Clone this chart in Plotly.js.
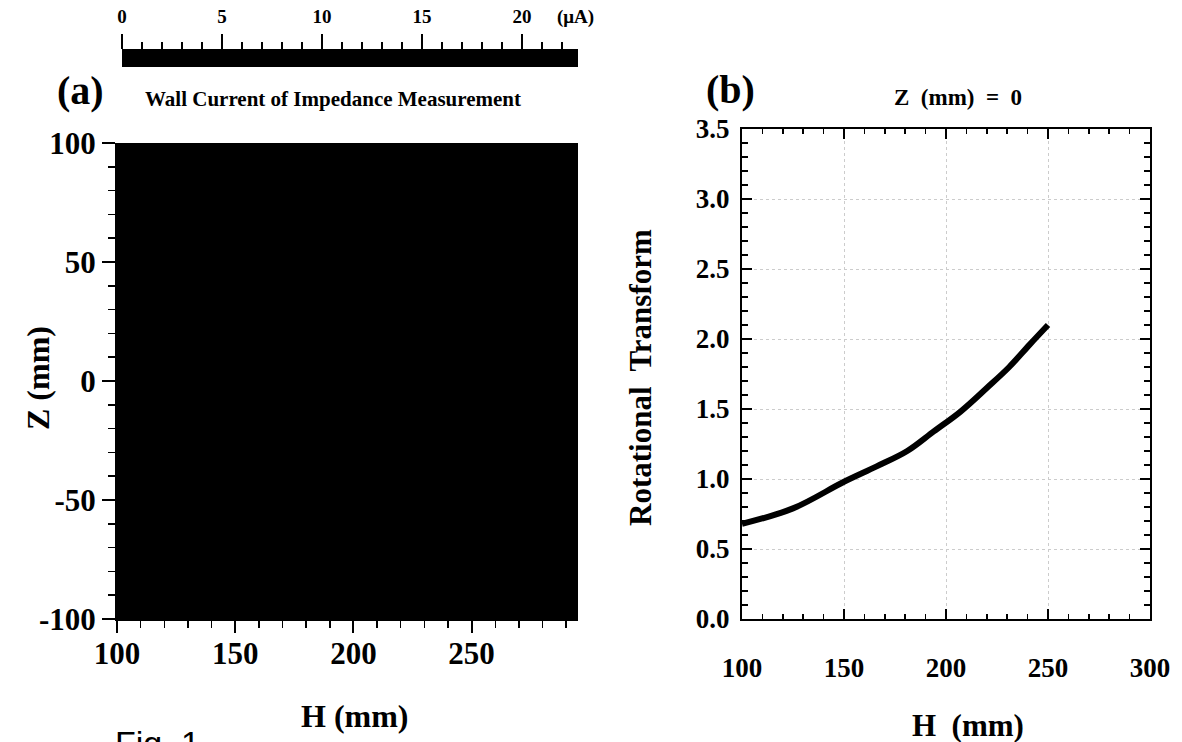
<!DOCTYPE html>
<html>
<head>
<meta charset="utf-8">
<script src="https://cdn.plot.ly/plotly-3.0.1.min.js"></script>
<style>body{margin:0;background:#fff}</style>
</head>
<body>
<div id="chart" style="width:1182px;height:742px"></div>
<script>
// ---- Panel (a): wall current map (rendered fully black in the reference) ----
const hEdgesA = [100, 150, 200, 250, 295];          // H (mm) cell edges
const zEdgesA = [-100, -50, 0, 50, 100];            // Z (mm) cell edges
const wallCurrent = [                               // µA (all saturated / black)
  [22.0, 22.3, 22.5, 22.6],
  [22.2, 22.5, 22.7, 22.8],
  [22.2, 22.5, 22.7, 22.8],
  [22.0, 22.3, 22.5, 22.6]
];
const zTickVals = [-100, -50, 0, 50, 100];
const zTickText = ['-100', '-50', '0', '50', '100'];
const hTickValsA = [100, 150, 200, 250];
// colour strip (scale bar) of panel (a)
const cbarEdges = [0, 5, 10, 15, 20, 22.8];
const cbarLevels = [2.5, 7.5, 12.5, 17.5, 21.4];
const cbarTicks = [0, 5, 10, 15, 20];

// ---- Panel (b): rotational transform vs H at Z = 0 ----
const hB = [100, 125, 150, 166, 181, 194, 207, 220, 231, 241, 250];
const iotaB = [0.68, 0.79, 0.98, 1.09, 1.20, 1.34, 1.48, 1.65, 1.80, 1.96, 2.10];

const W = 1182, Hh = 742;
const px = x => x / W;
const py = y => 1 - y / Hh;
const SERIF = 'Liberation Serif, Times New Roman, serif';

const traces = [
  {
    type: 'heatmap', x: hEdgesA, y: zEdgesA, z: wallCurrent,
    colorscale: [[0, '#000000'], [1, '#000000']], showscale: false,
    xaxis: 'x', yaxis: 'y', hoverinfo: 'skip'
  },
  {
    type: 'heatmap', x: cbarEdges, y: [0, 1], z: [cbarLevels],
    colorscale: [[0, '#000000'], [1, '#000000']], showscale: false,
    xaxis: 'x3', yaxis: 'y3', hoverinfo: 'skip'
  },
  {
    type: 'scatter', mode: 'lines', x: hB, y: iotaB,
    line: {color: '#000', width: 6, shape: 'spline'},
    xaxis: 'x2', yaxis: 'y2', showlegend: false
  }
];

const tfA = {family: SERIF, size: 31, color: '#000', weight: 'bold'};
const tfB = {family: SERIF, size: 27, color: '#000', weight: 'bold'};

const layout = {
  width: W, height: Hh,
  margin: {l: 0, r: 0, t: 0, b: 0},
  paper_bgcolor: '#fff', plot_bgcolor: '#fff',
  showlegend: false,
  xaxis: {
    domain: [px(117), px(578)], range: [100, 295], anchor: 'y',
    tickvals: hTickValsA, ticks: 'outside', ticklen: 12, tickwidth: 2,
    minor: {dtick: 10, tick0: 100, ticks: 'outside', ticklen: 7, tickwidth: 1.5, tickcolor: '#000'},
    showline: true, linewidth: 2, linecolor: '#000', tickcolor: '#000',
    showgrid: false, zeroline: false, tickfont: tfA, ticklabelstandoff: -6
  },
  yaxis: {
    domain: [py(619), py(143)], range: [-100, 100], anchor: 'x',
    tickvals: zTickVals, ticktext: zTickText, ticks: 'outside', ticklen: 13, tickwidth: 2,
    minor: {dtick: 10, tick0: -100, ticks: 'outside', ticklen: 7, tickwidth: 1.5, tickcolor: '#000'},
    showline: true, linewidth: 2, linecolor: '#000', tickcolor: '#000',
    showgrid: false, zeroline: false, tickfont: tfA, ticklabelstandoff: 0
  },
  xaxis3: {
    domain: [px(122), px(578)], range: [0, 22.8], anchor: 'y3', side: 'top',
    tickvals: cbarTicks, ticks: 'outside', ticklen: 15, tickwidth: 1.5, tickcolor: '#000',
    minor: {dtick: 1, tick0: 0, ticks: 'outside', ticklen: 7, tickwidth: 1.2, tickcolor: '#000'},
    showline: true, linewidth: 1.5, linecolor: '#000',
    showgrid: false, zeroline: false,
    tickfont: {family: SERIF, size: 19, color: '#000', weight: 'bold'},
    ticklabelstandoff: 3
  },
  yaxis3: {
    domain: [py(67), py(50)], range: [0, 1], anchor: 'x3',
    visible: false
  },
  xaxis2: {
    domain: [px(742), px(1150)], range: [100, 300], anchor: 'y2',
    dtick: 50, tick0: 100, ticks: 'inside', ticklen: 10, tickwidth: 2,
    minor: {dtick: 10, tick0: 100, ticks: 'inside', ticklen: 5, tickwidth: 1.5, tickcolor: '#000'},
    showline: true, mirror: 'ticks', linewidth: 2, linecolor: '#000', tickcolor: '#000',
    showgrid: true, gridcolor: '#cccccc', griddash: 'dot', gridwidth: 1,
    zeroline: false, tickfont: tfB, ticklabelstandoff: 24
  },
  yaxis2: {
    domain: [py(619), py(129)], range: [0, 3.5], anchor: 'x2',
    dtick: 0.5, tick0: 0, tickformat: '.1f', ticks: 'inside', ticklen: 10, tickwidth: 2,
    minor: {dtick: 0.1, tick0: 0, ticks: 'inside', ticklen: 6, tickwidth: 1.5, tickcolor: '#000'},
    showline: true, mirror: 'ticks', linewidth: 2, linecolor: '#000', tickcolor: '#000',
    showgrid: true, gridcolor: '#cccccc', griddash: 'dot', gridwidth: 1,
    zeroline: false, tickfont: tfB, ticklabelstandoff: 5
  },
  annotations: [
    {text: '(μA)', x: px(575), y: py(17), font: {family: SERIF, size: 19, weight: 'bold', color: '#000'}},
    {text: '(a)', x: px(80), y: py(90), font: {family: SERIF, size: 40, weight: 'bold', color: '#000'}},
    {text: 'Wall Current of Impedance Measurement', x: px(333), y: py(99),
     font: {family: SERIF, size: 21, weight: 'bold', color: '#000'}},
    {text: 'Z (mm)', x: px(38), y: py(378), textangle: -90,
     font: {family: SERIF, size: 32, weight: 'bold', color: '#000'}},
    {text: 'H (mm)', x: px(355), y: py(716),
     font: {family: SERIF, size: 32, weight: 'bold', color: '#000'}},
    {text: 'Fig. 1', x: px(113), y: py(722), xanchor: 'left', yanchor: 'top',
     font: {family: 'Liberation Sans, Arial, sans-serif', size: 34, color: '#000'}},
    {text: '(b)', x: px(730), y: py(89), font: {family: SERIF, size: 40, weight: 'bold', color: '#000'}},
    {text: 'Z  (mm)  =  0', x: px(958), y: py(97),
     font: {family: SERIF, size: 23, weight: 'bold', color: '#000'}},
    {text: 'Rotational  Transform', x: px(640), y: py(378), textangle: -90,
     font: {family: SERIF, size: 31, weight: 'bold', color: '#000'}},
    {text: 'H  (mm)', x: px(968), y: py(725),
     font: {family: SERIF, size: 31, weight: 'bold', color: '#000'}}
  ].map(a => Object.assign({xref: 'paper', yref: 'paper', showarrow: false,
                            xanchor: 'center', yanchor: 'middle'}, a))
};

Plotly.newPlot('chart', traces, layout, {staticPlot: true, displayModeBar: false});
</script>
</body>
</html>
